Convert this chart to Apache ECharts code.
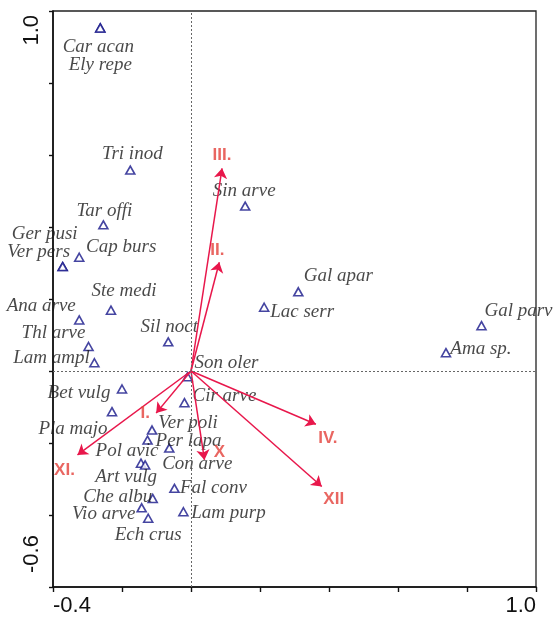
<!DOCTYPE html>
<html>
<head>
<meta charset="utf-8">
<script src="https://cdn.jsdelivr.net/npm/echarts@6/dist/echarts.min.js"></script>
<style>
html,body{margin:0;padding:0;background:#fff;}
#chart{width:553px;height:621px;}
</style>
</head>
<body>
<div id="chart"></div>
<script>
// ---- data ----
const speciesNames = ['Car acan','Ely repe','Tri inod','Tar offi','Ger pusi','Ver pers','Cap burs','Ste medi','Ana arve','Thl arve','Lam ampl','Sil noct','Son oler','Bet vulg','Pla majo','Cir arve','Ver poli','Per lapa','Pol avic','Art vulg','Con arve','Fal conv','Che albu','Vio arve','Ech crus','Lam purp','Sin arve','Gal apar','Lac serr','Gal parv','Ama sp.'];
const speciesX = [-0.263,-0.263,-0.176,-0.254,-0.372,-0.372,-0.324,-0.232,-0.324,-0.297,-0.280,-0.066,-0.010,-0.200,-0.229,-0.019,-0.113,-0.126,-0.145,-0.133,-0.063,-0.048,-0.111,-0.143,-0.124,-0.022,0.157,0.311,0.212,0.842,0.739];
const speciesY = [0.953,0.953,0.558,0.406,0.290,0.290,0.316,0.169,0.142,0.068,0.023,0.081,-0.016,-0.050,-0.113,-0.088,-0.164,-0.192,-0.256,-0.261,-0.214,-0.326,-0.354,-0.380,-0.409,-0.391,0.458,0.220,0.177,0.126,0.051];

const monthNames = ['III.','II.','I.','XI.','X','IV.','XII'];
const monthX = [0.090,0.082,-0.101,-0.329,0.039,0.362,0.379];
const monthY = [0.563,0.302,-0.117,-0.233,-0.247,-0.148,-0.321];

const xTickLabels = ['-0.4','1.0'];
const yTickLabels = ['-0.6','1.0'];

// ---- label placement (layout only, pixels) ----
const speciesLabelOffset = {
  'Car acan':[-2,19],'Ely repe':[0,37],'Tri inod':[2,-16],'Tar offi':[1,-14],
  'Ger pusi':[-18,-33],'Ver pers':[-24,-15],'Cap burs':[42,-10],'Ste medi':[13,-19],
  'Ana arve':[-38,-14],'Thl arve':[-35,-14],'Lam ampl':[-43,-5],'Sil noct':[1,-15],
  'Son oler':[39,-14],'Bet vulg':[-43,4],'Pla majo':[-39,17],'Cir arve':[40,-7],
  'Ver poli':[36,-7],'Per lapa':[41,1],'Pol avic':[-14,-12],'Art vulg':[-19,12],
  'Con arve':[28,16],'Fal conv':[39,0],'Che albu':[-35,-1],'Vio arve':[-38,6],
  'Ech crus':[0,17],'Lam purp':[45,1],'Sin arve':[-1,-15],'Gal apar':[40,-16],
  'Lac serr':[38,5],'Gal parv':[37,-15],'Ama sp.':[35,-4]
};
const monthLabelOffset = {
  'III.':[0,-13],'II.':[-2,-12],'I.':[-11,0],'XI.':[-13,15],'X':[15,-8],'IV.':[12,14],'XII':[12,13]
};

const XMIN = -0.4, XMAX = 1.0, YMIN = -0.6, YMAX = 1.0;

const speciesData = speciesNames.map((n,i)=>({
  name:n, value:[speciesX[i],speciesY[i]],
  label:{offset:speciesLabelOffset[n]}
}));
const arrowData = monthNames.map((n,i)=>({name:n, coords:[[0,0],[monthX[i],monthY[i]]]}));
const monthLabelData = monthNames.map((n,i)=>({
  name:n, value:[monthX[i],monthY[i]],
  label:{offset:monthLabelOffset[n]}
}));

const axisFont = 'Liberation Sans, Arial, sans-serif';

const chart = echarts.init(document.getElementById('chart'), null, {renderer:'canvas'});
chart.setOption({
  backgroundColor:'#fff',
  animation:false,
  grid:{left:53,right:17,top:11,bottom:34,show:true,borderColor:'#222',borderWidth:1.3,backgroundColor:'transparent'},
  xAxis:{
    type:'value',min:XMIN,max:XMAX,interval:0.2,
    splitLine:{show:false},
    axisLine:{show:true,onZero:false,lineStyle:{color:'#111',width:1.6}},
    axisTick:{show:true,length:5,lineStyle:{color:'#111',width:1.4}},
    axisLabel:{
      show:true,margin:8,color:'#111',fontFamily:axisFont,fontSize:22,
      formatter:function(v){
        if(Math.abs(v-XMIN)<1e-9) return xTickLabels[0];
        if(Math.abs(v-XMAX)<1e-9) return xTickLabels[1];
        return '';
      },
      alignMinLabel:'left',alignMaxLabel:'right'
    }
  },
  yAxis:{
    type:'value',min:YMIN,max:YMAX,interval:0.2,
    splitLine:{show:false},
    axisLine:{show:true,onZero:false,lineStyle:{color:'#111',width:1.6}},
    axisTick:{show:true,length:4,lineStyle:{color:'#111',width:1.4}},
    axisLabel:{
      show:true,margin:10,rotate:90,color:'#111',fontFamily:axisFont,fontSize:22,
      formatter:function(v){
        if(Math.abs(v-YMIN)<1e-9) return '{mn|' + yTickLabels[0] + '}';
        if(Math.abs(v-YMAX)<1e-9) return '{mx|' + yTickLabels[1] + '}';
        return '';
      },
      rich:{
        mn:{fontFamily:axisFont,fontSize:22,color:'#111',padding:[0,0,0,14]},
        mx:{fontFamily:axisFont,fontSize:22,color:'#111',padding:[0,4,0,0]}
      },
      alignMinLabel:'left',alignMaxLabel:'right'
    }
  },
  series:[
    {
      type:'scatter',
      name:'refLines',
      data:[],
      silent:true,
      markLine:{
        silent:true,symbol:['none','none'],
        label:{show:false},
        lineStyle:{color:'#666',type:[2,2],width:1},
        data:[{xAxis:0},{yAxis:0}]
      }
    },
    {
      type:'scatter',
      name:'species',
      symbol:'triangle',
      symbolSize:[9,8],
      itemStyle:{color:'#fff',borderColor:'#16168a',borderWidth:1.6},
      label:{
        show:true,position:'inside',formatter:'{b}',
        fontFamily:'Liberation Serif, Times New Roman, serif',fontStyle:'italic',
        fontSize:19,color:'#1a1a1a',align:'center',verticalAlign:'middle'
      },
      data:speciesData,
      z:3
    },
    {
      type:'lines',
      coordinateSystem:'cartesian2d',
      symbol:['none','arrow'],
      symbolSize:[0,10],
      lineStyle:{color:'#e8174b',width:1.5,opacity:1,curveness:0},
      data:arrowData,
      z:4
    },
    {
      type:'scatter',
      name:'months',
      symbol:'circle',
      symbolSize:1,
      itemStyle:{color:'rgba(0,0,0,0)'},
      label:{
        show:true,position:'inside',formatter:'{b}',
        fontFamily:axisFont,fontWeight:'bold',
        fontSize:17,color:'#e4403a',align:'center',verticalAlign:'middle'
      },
      data:monthLabelData,
      z:5
    }
  ]
});
</script>
</body>
</html>
